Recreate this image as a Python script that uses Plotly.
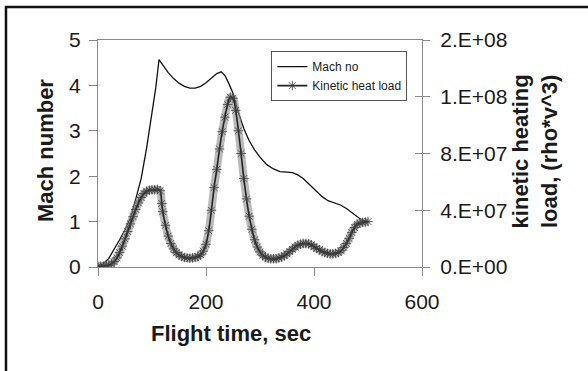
import plotly.graph_objects as go

# Mach number vs flight time (left axis)
mach_time = [0, 10, 20, 30, 40, 50, 60, 70, 80, 90, 100, 107, 113, 120, 130, 140, 150, 160,
             170, 180, 190, 200, 210, 220, 228, 235, 242, 250, 260, 270, 280, 290, 300, 312,
             325, 337, 350, 360, 370, 380, 392, 405, 415, 426, 440, 450, 460, 470, 480, 490, 500]
mach_no = [0.0, 0.07, 0.19, 0.38, 0.6, 0.82, 1.08, 1.5, 1.95, 2.62, 3.35, 3.95, 4.57, 4.45,
           4.28, 4.15, 4.05, 3.98, 3.94, 3.94, 3.98, 4.06, 4.16, 4.26, 4.30, 4.22, 4.05, 3.83,
           3.40, 3.05, 2.78, 2.58, 2.42, 2.26, 2.16, 2.10, 2.09, 2.08, 2.03, 1.95, 1.81, 1.65,
           1.55, 1.46, 1.41, 1.36, 1.29, 1.20, 1.11, 1.02, 1.0]

# Kinetic heat load (rho*v^3) vs flight time (right axis)
heat_time = [0, 5, 10, 15, 20, 25, 30, 35, 40, 45, 50, 55, 60, 65, 70, 75, 80, 85, 90, 95,
             100, 105, 110, 115, 118, 120, 125, 130, 135, 140, 145, 150, 155, 160, 165, 170,
             175, 180, 185, 190, 195, 200, 205, 210, 215, 220, 225, 230, 235, 240, 245, 250,
             255, 260, 265, 270, 275, 280, 285, 290, 295, 300, 305, 310, 315, 320, 325, 330,
             335, 340, 345, 350, 355, 360, 365, 370, 375, 380, 385, 390, 395, 400, 405, 410,
             415, 420, 425, 430, 435, 440, 445, 450, 455, 460, 465, 470, 475, 480, 485, 490,
             495, 500]
heat_load = [0.06e7, 0.06e7, 0.06e7, 0.1e7, 0.13e7, 0.22e7, 0.38e7, 0.64e7, 1.02e7, 1.47e7,
             1.98e7, 2.50e7, 3.04e7, 3.55e7, 4.06e7, 4.51e7, 4.90e7, 5.18e7, 5.34e7, 5.41e7,
             5.44e7, 5.44e7, 5.47e7, 5.38e7, 4.48e7, 3.90e7, 2.94e7, 2.18e7, 1.66e7, 1.28e7,
             1.02e7, 0.86e7, 0.74e7, 0.67e7, 0.64e7, 0.61e7, 0.64e7, 0.67e7, 0.74e7, 0.86e7,
             1.12e7, 1.60e7, 2.56e7, 4.00e7, 5.60e7, 6.88e7, 8.32e7, 9.54e7, 10.56e7, 11.46e7,
             11.97e7, 11.90e7, 11.04e7, 9.60e7, 8.00e7, 6.24e7, 4.80e7, 3.58e7, 2.66e7, 1.92e7,
             1.41e7, 1.06e7, 0.83e7, 0.70e7, 0.61e7, 0.58e7, 0.58e7, 0.58e7, 0.64e7, 0.70e7,
             0.80e7, 0.93e7, 1.09e7, 1.25e7, 1.41e7, 1.54e7, 1.60e7, 1.66e7, 1.66e7, 1.63e7,
             1.57e7, 1.44e7, 1.31e7, 1.22e7, 1.09e7, 1.02e7, 0.96e7, 0.93e7, 0.93e7, 0.96e7,
             1.02e7, 1.15e7, 1.38e7, 1.66e7, 2.02e7, 2.43e7, 2.78e7, 3.01e7, 3.10e7, 3.14e7,
             3.17e7, 3.20e7]

x_ticks = [0, 200, 400, 600]
y_ticks = [0, 1, 2, 3, 4, 5]
y2_ticks = [0, 4e7, 8e7, 1.2e8, 1.6e8]
y2_ticktext = ["0.E+00", "4.E+07", "8.E+07", "1.E+08", "2.E+08"]

FONT = "Liberation Sans, Arial, sans-serif"
AXIS_GRAY = "#8a8a8a"
TXT = "#1a1a1a"

fig = go.Figure()

fig.add_trace(go.Scatter(
    x=mach_time, y=mach_no, name="Mach no", mode="lines",
    line=dict(color="#111111", width=1.3), yaxis="y"))

# soft band under the heat-load markers
fig.add_trace(go.Scatter(
    x=heat_time, y=heat_load, mode="lines", showlegend=False, hoverinfo="skip",
    line=dict(color="rgba(140,140,140,0.6)", width=8, shape="spline"), yaxis="y2"))

fig.add_trace(go.Scatter(
    x=heat_time, y=heat_load, name="Kinetic heat load", mode="lines+markers",
    line=dict(color="#222222", width=1.6, shape="spline"),
    marker=dict(symbol="asterisk-open", size=8, color="rgba(60,60,60,0.8)",
                line=dict(width=1, color="rgba(60,60,60,0.8)")),
    yaxis="y2"))

# helper empty trace to render inner tick marks of the right axis
fig.add_trace(go.Scatter(x=[], y=[], yaxis="y3", showlegend=False, hoverinfo="skip"))

fig.update_layout(
    width=588, height=371,
    margin=dict(l=98, r=166, t=40, b=104),
    paper_bgcolor="white", plot_bgcolor="white",
    font=dict(family=FONT, color=TXT),
    showlegend=True,
    xaxis=dict(range=[0, 600], tickvals=x_ticks, showgrid=False, zeroline=False,
               showline=True, linecolor=AXIS_GRAY, linewidth=1.2, mirror=True,
               ticks="outside", ticklen=8, tickcolor=AXIS_GRAY, tickwidth=1.2,
               tickfont=dict(size=21, color=TXT), ticklabelstandoff=8),
    yaxis=dict(range=[0, 5], tickvals=y_ticks, showgrid=False, zeroline=False,
               showline=True, linecolor=AXIS_GRAY, linewidth=1.2,
               ticks="outside", ticklen=8, tickcolor=AXIS_GRAY, tickwidth=1.2,
               tickfont=dict(size=21, color=TXT), ticklabelstandoff=4),
    yaxis2=dict(range=[0, 1.6e8], tickvals=y2_ticks, ticktext=y2_ticktext,
                overlaying="y", side="right", anchor="x", showgrid=False, zeroline=False,
                showline=True, linecolor=AXIS_GRAY, linewidth=1.2,
                ticks="outside", ticklen=7, tickcolor=AXIS_GRAY, tickwidth=1.2,
                tickfont=dict(size=21, color=TXT), ticklabelstandoff=6),
    yaxis3=dict(range=[0, 1.6e8], tickvals=y2_ticks, overlaying="y", side="right",
                anchor="x", showgrid=False, zeroline=False, showline=False,
                showticklabels=False, ticks="inside", ticklen=7, tickcolor=AXIS_GRAY,
                tickwidth=1.2),
    legend=dict(x=0.535, y=0.951, xanchor="left", yanchor="top",
                bgcolor="white", bordercolor="#555555", borderwidth=1,
                font=dict(family=FONT, size=12, color=TXT),
                itemwidth=30, tracegroupgap=0),
    annotations=[
        dict(text="<b>Mach number</b>", xref="paper", yref="paper", x=-0.1636, y=0.515,
             textangle=-90, showarrow=False, xanchor="center", yanchor="middle",
             font=dict(size=22, color=TXT, family=FONT)),
        dict(text="<b>Flight time, sec</b>", xref="paper", yref="paper", x=0.4105, y=-0.295,
             showarrow=False, xanchor="center", yanchor="middle",
             font=dict(size=22, color=TXT, family=FONT)),
        dict(text="<b>kinetic heating<br>load, (rho*v^3)</b>", xref="paper", yref="paper",
             x=1.35, y=0.511, textangle=-90, showarrow=False, xanchor="center",
             yanchor="middle", font=dict(size=22, color=TXT, family=FONT)),
    ],
    shapes=[
        dict(type="rect", xref="paper", yref="paper", x0=-0.284, x1=2.0, y0=-1.0, y1=1.145,
             line=dict(color="#111111", width=2.5), fillcolor="rgba(0,0,0,0)", layer="below"),
    ],
)

fig.write_html("out.html")
